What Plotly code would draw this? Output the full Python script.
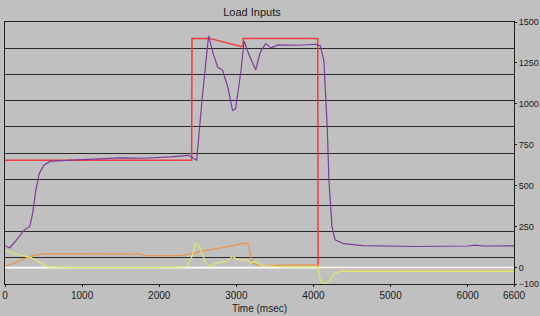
import plotly.graph_objects as go

# ---- data ----
t_red = [0, 2420, 2425, 2650, 3060, 3085, 3090, 4055, 4060, 6600]
v_red = [655, 655, 1400, 1400, 1350, 1352, 1400, 1400, 0, 0]

t_purple = [0, 60, 130, 250, 320, 360, 400, 445, 505, 590, 800, 1100, 1500, 1800,
            2150, 2380, 2485, 2560, 2640, 2700, 2760, 2820, 2890, 2950, 2990, 3060,
            3100, 3160, 3250, 3310, 3380, 3450, 3540, 3800, 4030, 4090, 4135, 4180,
            4200, 4240, 4280, 4390, 4640, 5320, 6000, 6100, 6200, 6600]
v_purple = [134, 120, 158, 230, 250, 334, 474, 577, 625, 650, 655, 662, 670, 668,
            676, 686, 656, 1050, 1415, 1305, 1222, 1208, 1100, 960, 970, 1202,
            1384, 1305, 1208, 1315, 1368, 1342, 1360, 1358, 1364, 1354, 1263, 838,
            534, 249, 170, 146, 134, 129, 132, 138, 132, 133]

t_orange = [0, 150, 316, 506, 1000, 1770, 1800, 2280, 2440, 2530, 2800, 3000,
            3125, 3160, 3200, 3290, 3600, 4050, 4080, 6600]
v_orange = [6, 35, 67, 85, 84, 83, 73, 73, 85, 99, 120, 138, 150, 140, 30, 12,
            16, 18, 0, 0]

t_yellow = [0, 168, 340, 550, 800, 1500, 1700, 2000, 2360, 2420, 2470, 2530,
            2600, 2660, 2750, 2870, 2950, 3010, 3140, 3190, 3250, 3330, 3600,
            4060, 4090, 4140, 4210, 4260, 4350, 6600]
v_yellow = [105, 79, 61, 6, 0, 2, 3, 0, 6, 61, 150, 120, 30, 6, 30, 36, 69, 49,
            44, 30, 38, 12, 5, 5, -83, -100, -83, -42, -22, -22]

t_white = [0, 6600]
v_white = [0, 0]

x_ticks = [0, 1000, 2000, 3000, 4000, 5000, 6000, 6600]
y_ticks = [1500, 1250, 1000, 750, 500, 250, 0, -100]

BG = "#c0c0c0"
fig = go.Figure()

def add(t, v, color, w=1.4):
    fig.add_trace(go.Scatter(x=t, y=v, mode="lines", line=dict(color=color, width=w),
                             showlegend=False, hoverinfo="skip", yaxis="y"))

add(t_red, v_red, "#f23a3a", 1.5)
add(t_purple, v_purple, "#7b3c9c", 1.2)
add(t_orange, v_orange, "#e8964e", 1.3)
add(t_white, v_white, "#ffffff", 1.6)
add(t_yellow, v_yellow, "#dfe46a", 1.3)

fig.update_layout(
    width=540, height=316,
    margin=dict(l=5, r=26, t=22, b=32),
    paper_bgcolor=BG, plot_bgcolor=BG,
    font=dict(family="Liberation Sans, Arial, sans-serif", size=10, color="#202020"),
    title=dict(text="Load Inputs", x=252 / 540, xanchor="center", y=1 - 12 / 316,
               yanchor="middle", font=dict(size=11, color="#202020")),
    xaxis=dict(range=[0, 6600], tickvals=x_ticks, ticks="outside", ticklen=2,
               tickcolor="#202020", showgrid=False, zeroline=False, automargin=False,
               showline=True, linecolor="#202020", linewidth=1, mirror=True,
               title=dict(text="Time (msec)", standoff=4, font=dict(size=10)),
               tickfont=dict(size=10)),
    yaxis=dict(range=[-100, 1500], side="right", tickvals=y_ticks, ticks="outside",
               ticklen=2, tickcolor="#202020", showgrid=False, zeroline=False,
               automargin=False,
               showline=True, linecolor="#202020", linewidth=1, mirror=True,
               tickfont=dict(size=9)),
    yaxis2=dict(range=[-100, 1500], overlaying="y", side="left", tick0=-100, dtick=160,
                showgrid=True, gridcolor="#2a2a2a", gridwidth=1, automargin=False,
                showticklabels=False, ticks="", zeroline=False, showline=False,
                layer="below traces"),
)
# invisible trace to activate the grid axis
fig.add_trace(go.Scatter(x=[0], y=[0], yaxis="y2", mode="markers",
                         marker=dict(opacity=0), showlegend=False, hoverinfo="skip"))

fig.write_html("out.html")
